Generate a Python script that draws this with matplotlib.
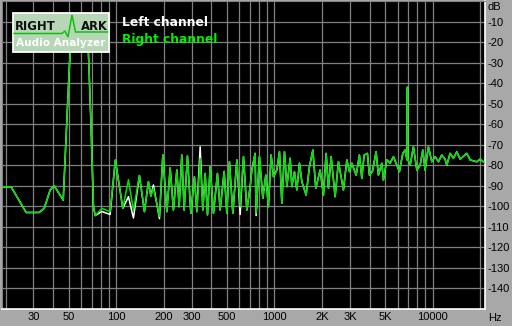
import matplotlib
matplotlib.use('Agg')
import matplotlib.pyplot as plt
from matplotlib.patches import Rectangle
from matplotlib.ticker import NullLocator

# ---------------- data ----------------
freqs = [19, 21.7, 27.0, 32.6, 35.1, 38.3, 40.6, 46.3, 48.8, 49.9, 51.2, 59.2,
         66.8, 69.2, 71.9, 73.7, 81.2, 91.6, 98.8, 110.2, 119.6, 128.6, 140.3,
         150.9, 160, 165.7, 172, 187.7, 197.2, 209.1, 219.4, 230.1, 241.7, 250,
         260, 268.9, 282.2, 296.4, 312.3, 323.4, 339.4, 352.9, 365, 377.5, 392.6,
         411.9, 436.5, 453.9, 481.3, 500.5, 519.7, 546.1, 578.9, 607.4, 637.3,
         669.6, 702.5, 720, 755, 766, 804, 845, 882, 916, 953, 986, 1036, 1076,
         1114, 1157, 1198, 1257, 1288, 1338, 1385, 1439, 1490, 1586, 1664, 1749,
         1826, 1944, 2040, 2122, 2194, 2282, 2418, 2537, 2729, 2868, 2978, 3084,
         3283, 3443, 3565, 3687, 3868, 3982, 4160, 4390, 4539, 4770, 4882, 5130,
         5382, 5647, 6162, 6474, 6696, 6880, 6923, 6960, 7201, 7553, 7937, 8326,
         8658, 8954, 9395, 9870, 10356, 10865, 11415, 11976, 12275, 12878, 13511,
         14200, 14898, 16426, 17235, 18992, 19929, 21429]
right_db = [-90.5, -90.5, -103, -103, -101, -92, -90, -97, -58, -42, -25, -15,
            -25, -58, -100, -104.5, -101, -102.6, -77.5, -101, -87, -102, -85,
            -102.6, -88, -95, -91, -105, -75, -102.6, -81.3, -101.8, -82.3, -100.2,
            -75, -101.8, -75.5, -103.4, -85.6, -102.6, -76.6, -101.8, -84, -104.2, -80.7,
            -103.4, -84, -101.8, -83, -103.4, -78.3, -103.4, -77.4, -100.2, -75.8,
            -101.8, -90.4, -82.3, -74.2, -103.4, -75.8, -96.1, -84.8, -100.2, -75, -85.6, -82.3, -73.4,
            -98.5, -73.4, -90.4, -76.6, -90.4, -83.1, -92, -79, -88, -94.5, -80.7, -72.6,
            -91.2, -82.3, -94.5, -74.2, -91.2, -75.8, -95.3, -78.3, -92, -77.4, -83.1, -79,
            -84.8, -75, -86.4, -75, -74.2, -84.8, -83, -73.4, -84.8, -79, -87.2, -77.4,
            -79, -75.8, -83.1, -74.2, -72.6, -77.4, -42, -77, -80, -71, -82.3, -80,
            -72.6, -82.3, -71, -78.3, -75.8, -78.3, -75, -77, -80, -74.2, -76.6,
            -73.4, -77, -74.2, -77.4, -78.3, -77, -79]
# left channel differs from the right one only at these points
left_diff = {81.2: -102.5, 91.6: -104, 119.6: -95.3, 128.6: -105.7, 172: -89.6,
             187.7: -106, 339.4: -71, 607.4: -104, 766: -104.5}
left_db = [left_diff.get(f, v) for f, v in zip(freqs, right_db)]

x_grid = [20, 30, 40, 50, 60, 70, 80, 90, 100, 200, 300, 400, 500, 600, 700, 800,
          900, 1000, 2000, 3000, 4000, 5000, 6000, 7000, 8000, 9000, 10000, 20000]
x_labels = {30: '30', 50: '50', 100: '100', 200: '200', 300: '300', 500: '500',
            1000: '1000', 2000: '2K', 3000: '3K', 5000: '5K', 10000: '10000'}
y_ticks = [-10, -20, -30, -40, -50, -60, -70, -80, -90, -100, -110, -120, -130, -140]

# ---------------- figure ----------------
W, H = 512, 326
BG = '#A8A8A8'
GRID = '#808080'
GREEN = '#00E000'
fig = plt.figure(figsize=(W / 100, H / 100), dpi=100, facecolor=BG)
ax = fig.add_axes([2 / W, (H - 309) / H, 483 / W, 308 / H])
ax.set_facecolor('black')
ax.set_xscale('log')
ax.set_xlim(19, 21400)
ax.set_ylim(-150, 0)
ax.set_xticks(x_grid)
ax.set_xticklabels([x_labels.get(v, '') for v in x_grid])
ax.xaxis.set_minor_locator(NullLocator())
ax.set_yticks(y_ticks)
ax.set_yticklabels([str(v) for v in y_ticks])
ax.yaxis.tick_right()
ax.grid(True, color=GRID, lw=0.9)
ax.set_axisbelow(True)
ax.tick_params(axis='both', length=0, labelsize=8, colors='black')
ax.tick_params(axis='x', pad=2)
ax.tick_params(axis='y', pad=1.5)
for lab in ax.get_xticklabels() + ax.get_yticklabels():
    lab.set_fontfamily('Liberation Sans')
for s in ('left', 'top'):
    ax.spines[s].set_color(GRID)
for s in ('right', 'bottom'):
    ax.spines[s].set_color('white')
    ax.spines[s].set_linewidth(1.2)

ax.plot(freqs, left_db, color='white', lw=1.1, zorder=3)
ax.plot(freqs, right_db, color=GREEN, lw=1.1, zorder=4)

# ---------------- overlay (logo, legend, axis units) ----------------
ov = fig.add_axes([0, 0, 1, 1], zorder=10)
ov.set_xlim(0, W)
ov.set_ylim(H, 0)
ov.axis('off')
ov.patch.set_alpha(0)

ov.text(487, 7, 'dB', fontsize=8, family='Liberation Sans', va='center', ha='left')
ov.text(488, 318, 'Hz', fontsize=8, family='Liberation Sans', va='center', ha='left')

ov.add_patch(Rectangle((12.5, 12.5), 96.5, 39.5, facecolor='#B6D6B6',
                       edgecolor='white', lw=1.3))
ov.plot([14, 62, 65, 68, 72, 75.5, 107.5], [33.5, 33.5, 31, 37, 15, 32, 32],
        color='#10C010', lw=1.1, solid_joinstyle='miter')
ov.text(15, 30, 'RIGHT', fontsize=8.4, fontweight='bold', color='#101010',
        family='DejaVu Sans', ha='left', va='baseline')
ov.text(107.5, 29.5, 'ARK', fontsize=8.4, fontweight='bold', color='#101010',
        family='DejaVu Sans', ha='right', va='baseline')
ov.text(61, 46, 'Audio Analyzer', fontsize=7.6, fontweight='bold', color='white',
        family='DejaVu Sans', ha='center', va='baseline')

ov.text(122, 26.5, 'Left channel', fontsize=8.8, fontweight='bold', color='white',
        family='DejaVu Sans', ha='left', va='baseline')
ov.text(122, 42.5, 'Right channel', fontsize=8.8, fontweight='bold', color='#00F000',
        family='DejaVu Sans', ha='left', va='baseline')

fig.savefig('out.png', dpi=100, facecolor=BG)
